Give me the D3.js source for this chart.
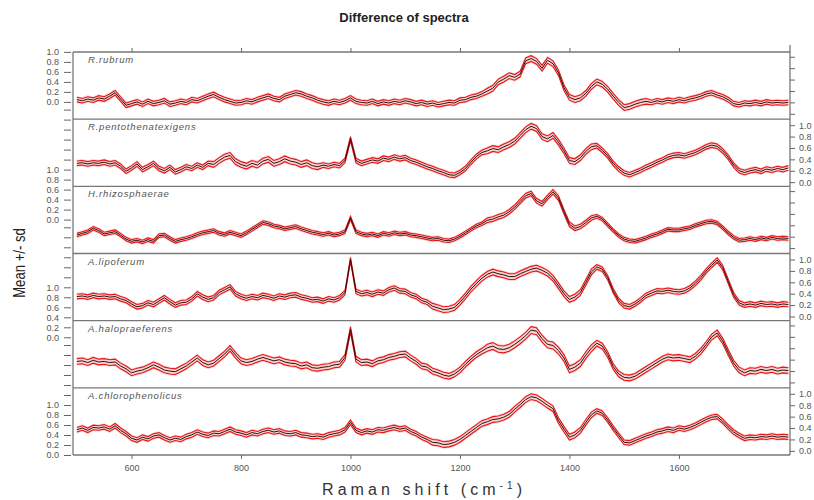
<!DOCTYPE html>
<html>
<head>
<meta charset="utf-8">
<script src="https://cdn.jsdelivr.net/npm/d3@7/dist/d3.min.js"></script>
<style>
  body { margin: 0; background: #fff; }
  text { font-family: "Liberation Sans", Arial, sans-serif; }
</style>
</head>
<body>
<svg id="chart" width="814" height="500"></svg>
<script>
// Raman shift grid (cm-1) shared by all spectra
const wavenumbers = [
  500,510,520,530,540,550,560,570,580,590, 600,610,620,630,640,650,660,670,680,690,
  700,710,720,730,740,750,760,770,780,790, 800,810,820,830,840,850,860,870,880,890,
  900,910,920,930,940,950,960,970,980,990, 1000,1010,1020,1030,1040,1050,1060,1070,1080,1090,
  1100,1110,1120,1130,1140,1150,1160,1170,1180,1190, 1200,1210,1220,1230,1240,1250,1260,1270,1280,1290,
  1300,1310,1320,1330,1340,1350,1360,1370,1380,1390, 1400,1410,1420,1430,1440,1450,1460,1470,1480,1490,
  1500,1510,1520,1530,1540,1550,1560,1570,1580,1590, 1600,1610,1620,1630,1640,1650,1660,1670,1680,1690,
  1700,1710,1720,1730,1740,1750,1760,1770,1780,1790, 1800];

const species = ["R.rubrum", "R.pentothenatexigens", "H.rhizosphaerae",
                 "A.lipoferum", "A.halopraeferens", "A.chlorophenolicus"];

// Mean intensities per species, one value per wavenumber
const meanRubrum = [
  0.27,0.25,0.28,0.26,0.30,0.28,0.33,0.39,0.28,0.17, 0.20,0.23,0.19,0.24,0.20,0.22,0.25,0.19,0.21,0.24,
  0.22,0.27,0.25,0.29,0.33,0.36,0.31,0.27,0.24,0.21, 0.22,0.25,0.23,0.27,0.30,0.33,0.29,0.27,0.33,0.36,
  0.39,0.37,0.33,0.30,0.26,0.23,0.21,0.24,0.22,0.25, 0.30,0.24,0.22,0.21,0.24,0.20,0.23,0.21,0.24,0.22,
  0.25,0.23,0.20,0.22,0.19,0.21,0.18,0.20,0.22,0.21, 0.26,0.27,0.31,0.33,0.37,0.42,0.47,0.58,0.63,0.69,
  0.66,0.72,0.95,0.99,0.94,0.82,0.96,0.90,0.74,0.48, 0.31,0.27,0.30,0.38,0.50,0.58,0.54,0.45,0.33,0.22,
  0.13,0.15,0.19,0.22,0.24,0.22,0.25,0.23,0.26,0.24, 0.27,0.25,0.28,0.30,0.33,0.37,0.39,0.35,0.32,0.27,
  0.20,0.18,0.21,0.20,0.22,0.20,0.23,0.21,0.22,0.21, 0.22];
const meanPentothenatexigens = [
  0.33,0.34,0.32,0.34,0.33,0.35,0.32,0.34,0.28,0.19, 0.25,0.32,0.22,0.27,0.33,0.24,0.20,0.26,0.18,0.22,
  0.27,0.24,0.30,0.26,0.33,0.31,0.38,0.44,0.47,0.36, 0.31,0.28,0.33,0.30,0.37,0.40,0.33,0.36,0.41,0.37,
  0.35,0.31,0.34,0.29,0.27,0.30,0.28,0.31,0.29,0.38, 0.76,0.38,0.33,0.36,0.39,0.37,0.42,0.40,0.44,0.41,
  0.43,0.38,0.35,0.31,0.27,0.24,0.20,0.17,0.13,0.12, 0.17,0.24,0.35,0.45,0.52,0.55,0.59,0.57,0.62,0.66,
  0.72,0.82,0.92,0.98,0.94,0.80,0.76,0.82,0.70,0.55, 0.38,0.36,0.43,0.54,0.62,0.64,0.56,0.46,0.33,0.23,
  0.16,0.13,0.17,0.21,0.26,0.30,0.35,0.39,0.44,0.47, 0.48,0.46,0.49,0.52,0.57,0.62,0.65,0.63,0.55,0.44,
  0.30,0.20,0.17,0.20,0.22,0.19,0.23,0.21,0.24,0.22, 0.25];
const meanRhizosphaerae = [
  0.25,0.28,0.31,0.37,0.33,0.27,0.29,0.31,0.25,0.18, 0.14,0.16,0.13,0.17,0.14,0.24,0.25,0.19,0.14,0.17,
  0.19,0.22,0.26,0.29,0.31,0.33,0.28,0.26,0.30,0.27, 0.24,0.29,0.35,0.41,0.47,0.45,0.41,0.39,0.36,0.38,
  0.40,0.36,0.33,0.30,0.28,0.26,0.28,0.25,0.27,0.31, 0.55,0.31,0.27,0.25,0.27,0.24,0.28,0.26,0.29,0.27,
  0.28,0.25,0.24,0.22,0.20,0.18,0.19,0.16,0.15,0.18, 0.23,0.29,0.35,0.41,0.45,0.51,0.53,0.57,0.60,0.66,
  0.74,0.84,0.94,0.98,0.85,0.80,0.91,1.01,0.90,0.66, 0.44,0.37,0.40,0.47,0.55,0.58,0.53,0.43,0.33,0.24,
  0.18,0.15,0.14,0.17,0.20,0.24,0.27,0.31,0.35,0.34, 0.34,0.36,0.38,0.42,0.45,0.48,0.49,0.46,0.38,0.29,
  0.21,0.16,0.17,0.19,0.17,0.20,0.18,0.21,0.19,0.20, 0.19];
const meanLipoferum = [
  0.35,0.36,0.34,0.37,0.35,0.36,0.34,0.35,0.31,0.28, 0.22,0.17,0.19,0.24,0.21,0.27,0.33,0.26,0.20,0.24,
  0.25,0.31,0.40,0.34,0.30,0.33,0.42,0.47,0.52,0.40, 0.35,0.32,0.35,0.33,0.37,0.35,0.32,0.36,0.34,0.37,
  0.38,0.34,0.32,0.29,0.30,0.27,0.31,0.29,0.33,0.42, 1.00,0.44,0.40,0.42,0.39,0.43,0.41,0.47,0.50,0.45,
  0.44,0.38,0.35,0.28,0.25,0.18,0.15,0.12,0.13,0.16, 0.25,0.36,0.48,0.58,0.67,0.74,0.78,0.75,0.73,0.70,
  0.70,0.75,0.79,0.83,0.85,0.81,0.76,0.67,0.54,0.40, 0.30,0.34,0.42,0.60,0.78,0.87,0.83,0.68,0.45,0.28,
  0.19,0.17,0.22,0.29,0.37,0.41,0.45,0.44,0.46,0.44, 0.43,0.45,0.50,0.58,0.68,0.80,0.90,0.99,0.86,0.62,
  0.38,0.24,0.20,0.22,0.20,0.23,0.21,0.22,0.20,0.22, 0.21];
const meanHalopraeferens = [
  0.39,0.40,0.37,0.41,0.38,0.39,0.37,0.38,0.31,0.26, 0.19,0.22,0.24,0.28,0.33,0.29,0.24,0.22,0.21,0.26,
  0.31,0.38,0.45,0.37,0.33,0.36,0.44,0.52,0.62,0.50, 0.40,0.37,0.39,0.43,0.46,0.43,0.40,0.42,0.38,0.36,
  0.35,0.31,0.33,0.28,0.27,0.29,0.30,0.33,0.34,0.46, 0.95,0.43,0.37,0.38,0.35,0.40,0.42,0.46,0.48,0.51,
  0.52,0.45,0.39,0.31,0.29,0.22,0.19,0.15,0.13,0.17, 0.24,0.34,0.43,0.51,0.57,0.63,0.66,0.61,0.60,0.63,
  0.69,0.76,0.84,0.94,0.92,0.79,0.69,0.67,0.58,0.45, 0.25,0.29,0.36,0.50,0.62,0.71,0.66,0.51,0.30,0.17,
  0.11,0.10,0.13,0.19,0.25,0.31,0.37,0.43,0.47,0.45, 0.46,0.44,0.42,0.48,0.57,0.69,0.82,0.89,0.75,0.55,
  0.36,0.24,0.19,0.23,0.22,0.25,0.23,0.25,0.22,0.24, 0.23];
const meanChlorophenolicus = [
  0.37,0.40,0.36,0.41,0.40,0.42,0.38,0.44,0.36,0.30, 0.22,0.19,0.24,0.21,0.26,0.28,0.23,0.19,0.22,0.20,
  0.25,0.28,0.33,0.29,0.27,0.31,0.30,0.34,0.38,0.33, 0.31,0.28,0.32,0.30,0.34,0.36,0.33,0.35,0.31,0.30,
  0.32,0.28,0.27,0.25,0.26,0.24,0.28,0.30,0.32,0.37, 0.50,0.36,0.32,0.35,0.33,0.37,0.36,0.39,0.41,0.38,
  0.40,0.34,0.30,0.24,0.20,0.15,0.14,0.11,0.12,0.15, 0.20,0.27,0.34,0.41,0.48,0.51,0.55,0.56,0.59,0.64,
  0.73,0.81,0.90,0.95,0.93,0.87,0.80,0.74,0.53,0.38, 0.24,0.28,0.36,0.50,0.63,0.70,0.66,0.54,0.40,0.27,
  0.15,0.14,0.18,0.22,0.26,0.29,0.33,0.35,0.38,0.36, 0.40,0.38,0.41,0.45,0.50,0.55,0.59,0.60,0.52,0.42,
  0.33,0.27,0.22,0.24,0.23,0.25,0.24,0.26,0.24,0.25, 0.24];

// Standard deviation per species, one value per 100 cm-1 band (500, 600, ... 1800)
const sdRubrum             = [0.04,0.04,0.04,0.04,0.04,0.04,0.04,0.04,0.05,0.05,0.05,0.04,0.04,0.04];
const sdPentothenatexigens = [0.04,0.04,0.04,0.05,0.05,0.04,0.04,0.04,0.05,0.05,0.04,0.04,0.04,0.04];
const sdRhizosphaerae      = [0.03,0.03,0.03,0.03,0.03,0.03,0.03,0.03,0.04,0.04,0.03,0.03,0.03,0.03];
const sdLipoferum          = [0.04,0.04,0.04,0.04,0.04,0.04,0.04,0.05,0.05,0.05,0.04,0.04,0.04,0.04];
const sdHalopraeferens     = [0.05,0.05,0.05,0.05,0.05,0.05,0.05,0.05,0.06,0.06,0.05,0.05,0.05,0.05];
const sdChlorophenolicus   = [0.04,0.04,0.04,0.04,0.04,0.04,0.04,0.05,0.05,0.05,0.04,0.04,0.04,0.04];

const means = [meanRubrum, meanPentothenatexigens, meanRhizosphaerae, meanLipoferum, meanHalopraeferens, meanChlorophenolicus];
const sds   = [sdRubrum, sdPentothenatexigens, sdRhizosphaerae, sdLipoferum, sdHalopraeferens, sdChlorophenolicus];

const xTickValues = [600, 800, 1000, 1200, 1400, 1600];
const yTickValues = [0.0, 0.2, 0.4, 0.6, 0.8, 1.0, 1.2, 1.4, 1.6, 1.8, 2.0, 2.2];
const chartTitle = "Difference of spectra";
const yTitle = "Mean +/- sd";

// ---- layout ----
const svg = d3.select("#chart");
const L = 73, R = 790, T = 52, B = 455;
const nPanels = species.length;
const panelH = (B - T) / nPanels;
const ink = "#666";

const x = d3.scaleLinear().domain([493, 1803]).range([L, R]);

// intensity scale of panel i
const yPanel = i => {
  const top = T + i * panelH;
  return d3.scaleLinear().domain([0, 1]).range([top + 63, top + 6]);
};

const fmt = d3.format(".1f");
const labelIfUnit = v => (v <= 1.0001 ? fmt(v) : "");

svg.append("rect").attr("width", 814).attr("height", 500).attr("fill", "#fff");

// ---- spectra ----
svg.append("defs").append("clipPath").attr("id", "plotclip")
  .append("rect").attr("x", L).attr("y", T).attr("width", R - L).attr("height", B - T);

const plot = svg.append("g").attr("clip-path", "url(#plotclip)");

species.forEach((name, i) => {
  const y = yPanel(i);
  const m = means[i];
  const sdAt = j => sds[i][Math.round((wavenumbers[j] - 500) / 100)];
  const pts = wavenumbers.map((w, j) => ({ w, m: m[j], s: sdAt(j) }));

  const g = plot.append("g");
  g.append("path").datum(pts)
    .attr("fill", "#f6c2c2").attr("fill-opacity", 0.7)
    .attr("d", d3.area().x(d => x(d.w)).y0(d => y(d.m - d.s - 0.025)).y1(d => y(d.m + d.s + 0.025)));
  [1, -1].forEach(sign => {
    g.append("path").datum(pts)
      .attr("fill", "none").attr("stroke", "#ea1212").attr("stroke-width", 1.1)
      .attr("d", d3.line().x(d => x(d.w)).y(d => y(d.m + sign * d.s)));
  });
  g.append("path").datum(pts)
    .attr("fill", "none").attr("stroke", "#2a1010").attr("stroke-width", 1)
    .attr("d", d3.line().x(d => x(d.w)).y(d => y(d.m)));

  svg.append("text")
    .attr("x", 88).attr("y", T + i * panelH + 11)
    .attr("font-size", 9.5).attr("font-style", "italic").attr("letter-spacing", 0.8)
    .attr("fill", "#555")
    .text(name);
});

// ---- frame and panel separators ----
const frame = svg.append("g").attr("stroke", "#777").attr("stroke-width", 1.3);
d3.range(nPanels + 1).forEach(k => {
  const yy = T + k * panelH;
  frame.append("line").attr("x1", L).attr("x2", R).attr("y1", yy).attr("y2", yy);
});
frame.append("line").attr("x1", L).attr("x2", L).attr("y1", T).attr("y2", B);
frame.append("line").attr("x1", R).attr("x2", R).attr("y1", T - 7).attr("y2", B);

// ---- left axis: label groups every ~118 px ----
const leftZeros = [101.9, 219.6, 337.3, 455];
leftZeros.forEach(z => {
  const s = d3.scaleLinear().domain([0, 1]).range([z, z - 50]);
  const vals = yTickValues.filter(v => s(v) >= T - 0.5 && s(v) <= B + 0.5);
  const ax = svg.append("g").attr("transform", "translate(71,0)")
    .call(d3.axisLeft(s).tickValues(vals).tickFormat(labelIfUnit).tickSize(7).tickPadding(5));
  ax.select(".domain").remove();
  ax.selectAll("line").attr("stroke", ink);
  ax.selectAll("text").attr("fill", "#555").attr("font-size", 9).attr("font-family", "Liberation Sans, Arial, sans-serif");
});

// ---- right axis: on panels 2, 4, 6 ----
[1, 3, 5].forEach(i => {
  const s = yPanel(i);
  const vals = yTickValues.filter(v => s(v) >= T && s(v) <= B + 0.5);
  const ax = svg.append("g").attr("transform", `translate(${R},0)`)
    .call(d3.axisRight(s).tickValues(vals).tickFormat(labelIfUnit).tickSize(5).tickPadding(4));
  ax.select(".domain").remove();
  ax.selectAll("line").attr("stroke", ink);
  ax.selectAll("text").attr("fill", "#555").attr("font-size", 9).attr("font-family", "Liberation Sans, Arial, sans-serif");
});

// ---- bottom and top axes ----
const bx = svg.append("g").attr("transform", `translate(0,${B})`)
  .call(d3.axisBottom(x).tickValues(xTickValues).tickFormat(d3.format("d")).tickSize(4).tickPadding(6));
bx.select(".domain").remove();
bx.selectAll("line").attr("stroke", ink);
bx.selectAll("text").attr("fill", "#555").attr("font-size", 9).attr("font-family", "Liberation Sans, Arial, sans-serif");

const tx = svg.append("g").attr("transform", `translate(0,${T})`)
  .call(d3.axisTop(x).tickValues(xTickValues).tickFormat("").tickSize(4));
tx.select(".domain").remove();
tx.selectAll("line").attr("stroke", ink);

// ---- titles ----
svg.append("text").attr("x", 404).attr("y", 22).attr("text-anchor", "middle")
  .attr("font-size", 13).attr("font-weight", "bold").attr("fill", "#222").text(chartTitle);

// condensed vertical axis title
svg.append("text").attr("transform", "translate(25,263) rotate(-90) scale(0.82,1)").attr("text-anchor", "middle")
  .attr("font-size", 16).attr("fill", "#222").text(yTitle);

const xt = svg.append("text").attr("x", 422).attr("y", 495).attr("text-anchor", "middle")
  .attr("font-size", 16).attr("fill", "#333")
  .attr("textLength", 200).attr("lengthAdjust", "spacing");
xt.append("tspan").text("Raman shift (cm");
xt.append("tspan").attr("dy", -6).attr("font-size", 10).text("-1");
xt.append("tspan").attr("dy", 6).text(")");
</script>
</body>
</html>
